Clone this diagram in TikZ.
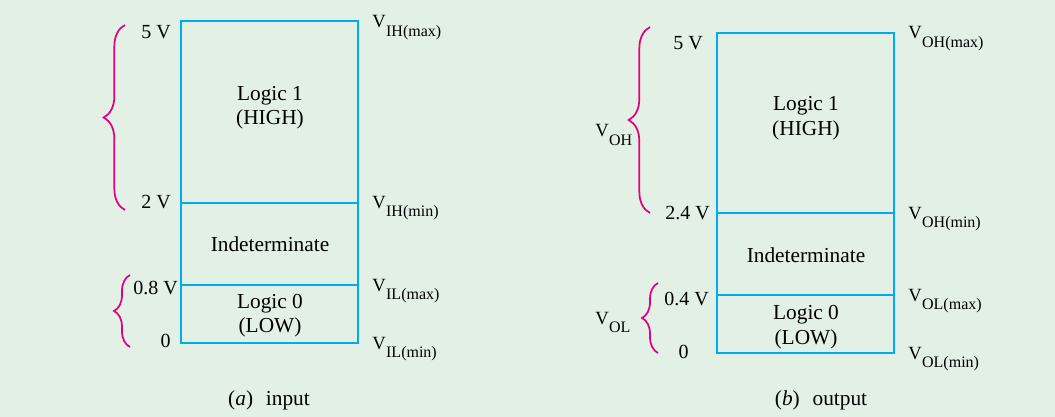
\documentclass[tikz,border=0pt]{standalone}
\usepackage{fontspec}
\setmainfont{Liberation Serif}
\usetikzlibrary{decorations.pathreplacing}
\definecolor{bgc}{RGB}{226,240,230}
\definecolor{boxblue}{RGB}{0,172,236}
\definecolor{brmag}{RGB}{230,0,126}
\newcommand{\Vsub}[1]{V\kern0.3pt\raisebox{-6.5pt}{\fontsize{12}{12}\selectfont #1}}
\begin{document}
\begin{tikzpicture}[x=0.75pt,y=-0.75pt,
  bx/.style={draw=boxblue, line width=1.6pt},
  volt/.style={font=\fontsize{15}{17}\selectfont, inner sep=0pt},
  txt/.style={font=\fontsize{16}{19}\selectfont, inner sep=0pt, anchor=base},
  vl/.style={font=\fontsize{14}{16}\selectfont, inner sep=0pt, anchor=base west},
  brc/.style={draw=brmag, line width=1.3pt, decorate, decoration={brace, amplitude=#1}}]
\fill[bgc] (0,0) rectangle (1055,417);
\useasboundingbox (0,0) rectangle (1055,417);
% ---------- (a) input ----------
\coordinate (a1) at (181,21);  \coordinate (a2) at (358,21);
\coordinate (a3) at (181,203); \coordinate (a4) at (358,203);
\coordinate (a5) at (181,285); \coordinate (a6) at (358,285);
\coordinate (a7) at (181,343); \coordinate (a8) at (358,343);
\draw[bx] (a1) rectangle (a8);
\draw[bx] (a3) -- (a4);
\draw[bx] (a5) -- (a6);
\node[txt] (al1) at (270,101) {Logic 1};
\node[txt] (al2) at (270,125) {(HIGH)};
\node[txt] (ai)  at (270,251) {Indeterminate};
\node[txt] (al3) at (270,308) {Logic 0};
\node[txt] (al4) at (270,332) {(LOW)};
\node[volt, anchor=base east] (av5) at (171,39) {5 V};
\node[volt, anchor=base east] (av2) at (171,208) {2 V};
\node[volt, anchor=base east] (av08) at (178,294) {0.8 V};
\node[volt, anchor=base east] (av0) at (171,347) {0};
\node[vl] (ar1) at (372,28) {\Vsub{IH(max)}};
\node[vl] (ar2) at (372,208) {\Vsub{IH(min)}};
\node[vl] (ar3) at (372,291) {\Vsub{IL(max)}};
\node[vl] (ar4) at (372,349) {\Vsub{IL(min)}};
\coordinate (ab1t) at (125,25); \coordinate (ab1b) at (125,210);
\coordinate (ab2t) at (130,275); \coordinate (ab2b) at (130,347);
\draw[brc=16pt] (ab1b) -- (ab1t);
\draw[brc=12pt] (ab2b) -- (ab2t);
\node[txt] (capa) at (269,405) {(\textit{a})\hspace{0.6em}input};
% ---------- (b) output ----------
\coordinate (b1) at (717,33);  \coordinate (b2) at (894,33);
\coordinate (b3) at (717,213); \coordinate (b4) at (894,213);
\coordinate (b5) at (717,295); \coordinate (b6) at (894,295);
\coordinate (b7) at (717,353); \coordinate (b8) at (894,353);
\draw[bx] (b1) rectangle (b8);
\draw[bx] (b3) -- (b4);
\draw[bx] (b5) -- (b6);
\node[txt] (bl1) at (806,111) {Logic 1};
\node[txt] (bl2) at (806,136) {(HIGH)};
\node[txt] (bi)  at (806,262) {Indeterminate};
\node[txt] (bl3) at (806,319) {Logic 0};
\node[txt] (bl4) at (806,344) {(LOW)};
\node[volt, anchor=base east] (bv5) at (703,50) {5 V};
\node[volt, anchor=base east] (bv24) at (710,219) {2.4 V};
\node[volt, anchor=base east] (bv04) at (709,305) {0.4 V};
\node[volt, anchor=base east] (bv0) at (689,358) {0};
\node[vl] (br1) at (908,39) {\Vsub{OH(max)}};
\node[vl] (br2) at (908,219) {\Vsub{OH(min)}};
\node[vl] (br3) at (908,301) {\Vsub{OL(max)}};
\node[vl] (br4) at (908,359) {\Vsub{OL(min)}};
\coordinate (bb1t) at (650,27); \coordinate (bb1b) at (650,213);
\coordinate (bb2t) at (658,283); \coordinate (bb2b) at (658,353);
\draw[brc=16pt] (bb1b) -- (bb1t);
\draw[brc=12pt] (bb2b) -- (bb2t);
\node[vl] (voh) at (595,137) {\Vsub{OH}};
\node[vl] (vol) at (595,324) {\Vsub{OL}};
\node[txt] (capb) at (821,405) {(\textit{b})\hspace{0.6em}output};
\end{tikzpicture}
\end{document}
